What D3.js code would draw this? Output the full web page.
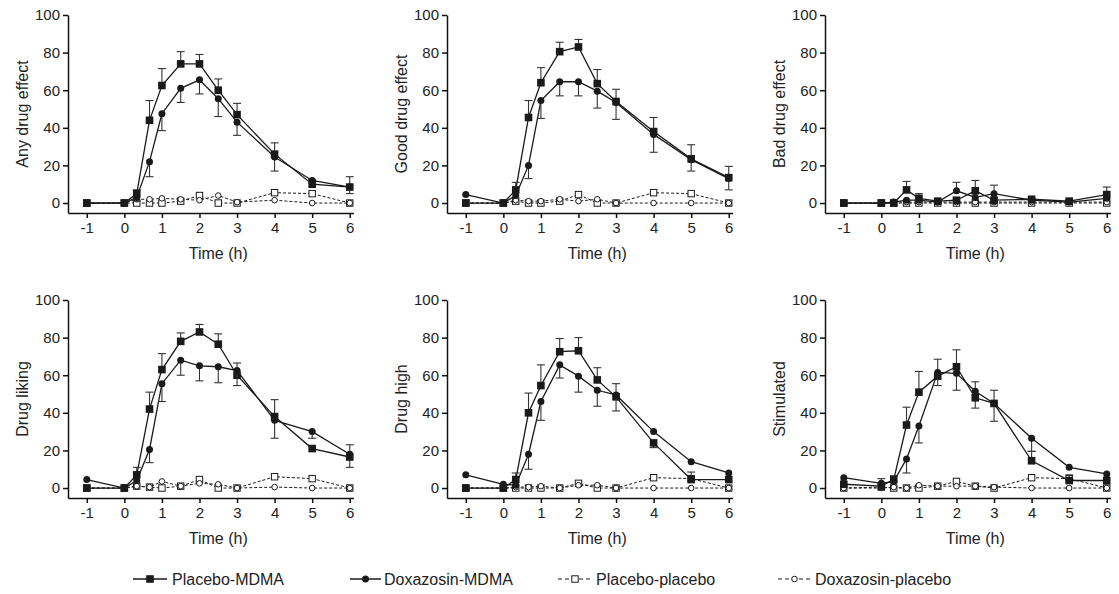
<!DOCTYPE html>
<html>
<head>
<meta charset="utf-8">
<script src="https://cdn.jsdelivr.net/npm/d3@7"></script>
<style>
  body { margin: 0; background: #fff; }
  svg { display: block; font-family: "Liberation Sans", Arial, sans-serif; }
  .axis path, .axis line { stroke: #111; stroke-width: 1.5; }
  .axis text { font-size: 15px; fill: #222; }
</style>
</head>
<body>
<script>
'use strict'

// time points (h)
const times = [-1, 0, 0.33, 0.67, 1, 1.5, 2, 2.5, 3, 4, 5, 6]
const xTicks = [-1, 0, 1, 2, 3, 4, 5, 6]
const yTicks = [0, 20, 40, 60, 80, 100]

const seriesNames = ['Placebo-MDMA', 'Doxazosin-MDMA', 'Placebo-placebo', 'Doxazosin-placebo']
const panelTitles = ['Any drug effect', 'Good drug effect', 'Bad drug effect', 'Drug liking', 'Drug high', 'Stimulated']

// Any drug effect
const anyPM = [0, 0, 5, 44, 62.5, 74, 74, 60, 47, 26, 10, 8.5]
const anyPMerr = [0, 0, 2, 10.5, 9, 6.5, 5, 6, 6, 6, 2.5, 5.5]
const anyDM = [0, 0, 3, 22, 47.5, 61, 65.5, 55.5, 43, 24.5, 12, 8.5]
const anyDMerr = [0, 0, -2, -8, -9, -7.5, -7.5, -9.5, -7, -7.5, -1.5, -3.5]
const anyPP = [0, 0, 0, 0, 0, 1, 4, 0, 0, 5.5, 5, 0]
const anyDP = [0, 0, 2, 2, 2.5, 2, 1.5, 4, 0.5, 1.5, 0, 0]

// Good drug effect
const goodPM = [0, 0, 7, 45.5, 64, 80.5, 83, 63.5, 54, 38, 23.5, 13.5]
const goodPMerr = [0, 0, 4, 9, 8, 5, 4, 7.5, 6.5, 7.5, 7.5, 6]
const goodDM = [4.5, 0, 4, 20, 54.5, 64.5, 64.5, 59.5, 53.5, 36.5, 23, 13]
const goodDMerr = [0, 0, 0, -7, -9.5, -7.5, -7.5, -9, -9, -9.5, -6, -6]
const goodPP = [0, 0, 1, 0, 0, 1, 4.5, 0, 0, 5.5, 5, 0]
const goodDP = [0, 0, 1.5, 1, 1, 2, 1, 2, 0, 0, 0, 0]

// Bad drug effect
const badPM = [0, 0, 0, 7, 2.5, 1, 1.5, 6.5, 1.5, 2, 1, 4.5]
const badPMerr = [0, 0, 0, 4.5, 2.5, 0, 0, 5.5, 0, 0.5, 0.5, 4]
const badDM = [0, 0, 0.5, 1.5, 1.5, 0.5, 6.5, 3, 5, 1.5, 0.5, 2.5]
const badDMerr = [0, 0, 0, 0, 0, 0, 4.5, 0, 4.5, 0, 0, 0]
const badPP = [0, 0, 0, 0, 0, 0, 0, 0, 0, 0, 0, 0]
const badDP = [0, 0, 0.5, 0.5, 0.5, 0.5, 0.5, 0.5, 0.5, 0.5, 0.5, 0.5]

// Drug liking
const likingPM = [0, 0, 7, 42, 63, 78, 83, 76.5, 60, 38, 21, 16.5]
const likingPMerr = [0, 0, 4, 9, 8.5, 4.5, 4, 5.5, 6.5, 9, 0, -5.5]
const likingDM = [4.5, 0, 4, 20.5, 55.5, 68, 65, 64.5, 62.5, 36, 30, 18]
const likingDMerr = [0, 0, 0, -7, -9.5, -8, -8, -8.5, -8, -9.5, -3.5, 5]
const likingPP = [0, 0, 1, 0.5, 0, 1, 4.5, 0, 0, 6, 5, 0]
const likingDP = [0, 0, 1, 0.5, 3.5, 1, 2.5, 2, 0, 0.5, 0, 0]

// Drug high
const highPM = [0, 0, 4.5, 40, 54.5, 72.5, 73, 57.5, 48.5, 24, 4.5, 4.5]
const highPMerr = [0, 0, 3.5, 10.5, 11, 7, 7, 6.5, 7, -2.5, 4, 0]
const highDM = [7, 2, 1.5, 18, 46, 65.5, 59.5, 52, 49.5, 30, 14, 8]
const highDMerr = [0, 0, 0, -8, -10, -7, -8.5, -8.5, -8.5, 0, 0, 0]
const highPP = [0, 0, 0, 0, 0, 0, 2.5, 0, 0, 5.5, 5, 0]
const highDP = [0, 0, 0.5, 0.5, 1, 0, 1.5, 1.5, 0, 0, 0, 0]

// Stimulated
const stimPM = [2, 1, 4.5, 33.5, 51, 59.5, 64.5, 48, 45, 14.5, 4, 4]
const stimPMerr = [0, 0, 2, 9.5, 11, 9, 9, -5.5, 7, 5, 3, 0]
const stimDM = [5.5, 2.5, 3.5, 15.5, 33, 61.5, 61, 51.5, 45, 26.5, 11, 7.5]
const stimDMerr = [0, 2.5, 0, -7.5, -9, -7, -9, 5, -9.5, -7, 0, 0]
const stimPP = [0, 0.5, 0, 0, 0, 1, 3.5, 1, 0, 5.5, 5, 0]
const stimDP = [0, 0, 0.5, 0, 1.5, 1, 1, 1, 0.5, 0, 0, 0]

const panelData = [
  [anyPM, anyDM, anyPP, anyDP, anyPMerr, anyDMerr],
  [goodPM, goodDM, goodPP, goodDP, goodPMerr, goodDMerr],
  [badPM, badDM, badPP, badDP, badPMerr, badDMerr],
  [likingPM, likingDM, likingPP, likingDP, likingPMerr, likingDMerr],
  [highPM, highDM, highPP, highDP, highPMerr, highDMerr],
  [stimPM, stimDM, stimPP, stimDP, stimPMerr, stimDMerr]
]

const width = 1119
const height = 594
const ink = '#1a1a1a'

const svg = d3.select('body').append('svg')
  .attr('width', width)
  .attr('height', height)

const lefts = [68, 447, 825]
const tops = [15, 300]
const plotW = 285.5
const plotH = 198

// draw one marker of a given kind at (0,0)
function marker(sel, kind) {
  if (kind === 'fsq') {
    sel.append('rect').attr('x', -3.8).attr('y', -3.8).attr('width', 7.6).attr('height', 7.6)
      .attr('fill', ink)
  } else if (kind === 'fci') {
    sel.append('circle').attr('r', 3.5).attr('fill', ink)
  } else if (kind === 'osq') {
    sel.append('rect').attr('x', -3.2).attr('y', -3.2).attr('width', 6.4).attr('height', 6.4)
      .attr('fill', '#fff').attr('stroke', ink).attr('stroke-width', 1)
  } else {
    sel.append('circle').attr('r', 2.8)
      .attr('fill', '#fff').attr('stroke', ink).attr('stroke-width', 1)
  }
}

const kinds = ['fsq', 'fci', 'osq', 'oci']

panelData.forEach(function (pd, i) {
  const left = lefts[i % 3]
  const top = tops[Math.floor(i / 3)]

  const x = d3.scaleLinear().domain([-1.5, 6.1]).range([left, left + plotW])
  const y = d3.scaleLinear().domain([-5.3, 100]).range([top + plotH, top])

  const g = svg.append('g')

  g.append('g')
    .attr('class', 'axis')
    .attr('transform', `translate(0,${top + plotH})`)
    .call(d3.axisBottom(x).tickValues(xTicks).tickFormat(d => String(d))
      .tickSize(5).tickSizeOuter(0).tickPadding(4))
    .call(a => a.selectAll('text').attr('dy', '0.75em'))

  g.append('g')
    .attr('class', 'axis')
    .attr('transform', `translate(${left},0)`)
    .call(d3.axisLeft(y).tickValues(yTicks).tickSize(5).tickSizeOuter(0).tickPadding(3))

  g.selectAll('.axis text').attr('font-family', null).attr('font-size', null)

  g.append('text')
    .attr('transform', `translate(${left - 40},${top + plotH / 2}) rotate(-90)`)
    .attr('text-anchor', 'middle')
    .attr('font-size', 16)
    .attr('fill', '#222')
    .text(panelTitles[i])

  g.append('text')
    .attr('x', x(2.5))
    .attr('y', top + plotH + 46)
    .attr('text-anchor', 'middle')
    .attr('font-size', 16)
    .attr('fill', '#222')
    .text('Time (h)')

  const line = d3.line()
    .x(d => x(d[0]))
    .y(d => y(d[1]))

  // placebo series first (dashed), then MDMA series on top
  const order = [2, 3, 0, 1]
  order.forEach(function (s) {
    const vals = pd[s]
    const pts = times.map((t, k) => [t, vals[k]])
    const dashed = s >= 2

    g.append('path')
      .datum(pts)
      .attr('d', line)
      .attr('fill', 'none')
      .attr('stroke', ink)
      .attr('stroke-width', dashed ? 1 : 1.3)
      .attr('stroke-dasharray', dashed ? '3,2' : null)

    if (s < 2) {
      const errs = pd[s + 4]
      const eb = g.append('g')
        .attr('stroke', '#333')
        .attr('stroke-width', 1.1)
      pts.forEach(function (p, k) {
        const e = errs[k]
        if (!e) return
        const cx = x(p[0])
        const y0 = y(p[1])
        const y1 = y(p[1] + e)
        eb.append('line').attr('x1', cx).attr('x2', cx).attr('y1', y0).attr('y2', y1)
        eb.append('line').attr('x1', cx - 4).attr('x2', cx + 4).attr('y1', y1).attr('y2', y1)
      })
    }

    g.append('g').selectAll('g')
      .data(pts)
      .enter()
      .append('g')
      .attr('transform', d => `translate(${x(d[0])},${y(d[1])})`)
      .each(function () { marker(d3.select(this), kinds[s]) })
  })
})

// legend
const legendY = 579
const legendItems = [
  { x0: 133, x1: 167, tx: 172 },
  { x0: 350, x1: 381, tx: 384 },
  { x0: 558, x1: 592, tx: 596 },
  { x0: 778, x1: 811, tx: 815 }
]

legendItems.forEach(function (it, s) {
  const lg = svg.append('g')
  lg.append('line')
    .attr('x1', it.x0).attr('x2', it.x1)
    .attr('y1', legendY).attr('y2', legendY)
    .attr('stroke', ink)
    .attr('stroke-width', s >= 2 ? 1 : 1.5)
    .attr('stroke-dasharray', s >= 2 ? '4,3' : null)
  const m = lg.append('g').attr('transform', `translate(${(it.x0 + it.x1) / 2},${legendY})`)
  marker(m, kinds[s])
  lg.append('text')
    .attr('x', it.tx)
    .attr('y', legendY + 6)
    .attr('font-size', 16)
    .attr('fill', '#222')
    .text(seriesNames[s])
})
</script>
</body>
</html>
